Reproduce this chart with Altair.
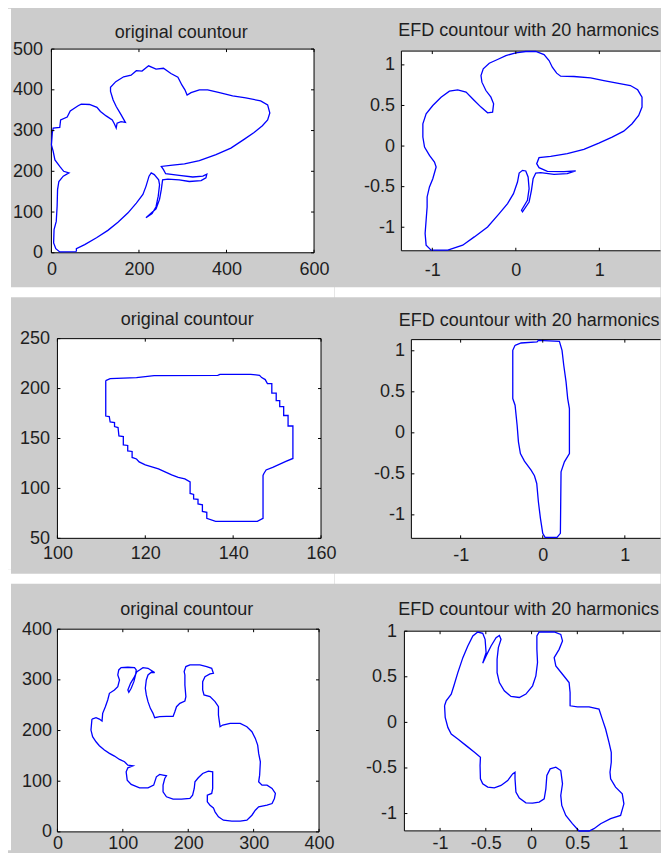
import altair as alt
import pandas as pd

# ---------- data: original butterfly contour ----------
bfly_x = [57, 19, 10, 5, 6, 11, 13, 14, 17, 27,
          40, 28, 19, 8, 4, 0, 2, 4, 19, 21,
          36, 43, 61, 68, 87, 104, 112, 125, 139, 144,
          148, 150, 159, 169, 159, 148, 141, 135, 135, 147,
          165, 182, 194, 207, 222, 239, 256, 273, 289, 298,
          305, 310, 319, 338, 357, 384, 414, 444, 478, 494,
          499, 494, 482, 463, 441, 410, 376, 338, 304, 277,
          251, 256, 261, 292, 323, 346, 355, 353, 342, 315,
          292, 266, 254, 251, 247, 239, 216, 230, 239, 244,
          247, 245, 235, 228, 223, 216, 209, 194, 175, 152,
          129, 103, 76, 57]
bfly_y = [3, 2, 10, 24, 57, 77, 114, 155, 175, 188,
          196, 200, 212, 228, 249, 265, 294, 306, 308, 326,
          333, 348, 361, 365, 364, 357, 347, 336, 326, 316,
          306, 318, 322, 320, 339, 359, 375, 396, 406, 420,
          432, 436, 447, 446, 459, 451, 453, 440, 431, 412,
          400, 387, 393, 400, 400, 393, 385, 380, 373, 363,
          343, 326, 312, 295, 279, 257, 241, 226, 218, 215,
          212, 204, 194, 190, 186, 188, 193, 184, 177, 175,
          179, 181, 179, 155, 131, 108, 86, 96, 113, 139,
          167, 179, 192, 196, 188, 163, 143, 122, 98, 75,
          55, 37, 20, 10]

# ---------- data: EFD butterfly ----------
efd1_x = [-0.815, -1.014, -1.074, -1.086, -1.074, -1.062, -1.062, -1.034, -0.994, -0.954,
          -0.974, -1.034, -1.093, -1.113, -1.113, -1.074, -0.994, -0.895, -0.795, -0.696,
          -0.596, -0.497, -0.417, -0.338, -0.278, -0.266, -0.298, -0.358, -0.406, -0.417,
          -0.390, -0.318, -0.219, -0.119, 0.000, 0.119, 0.239, 0.338, 0.398, 0.437,
          0.489, 0.537, 0.696, 0.895, 1.054, 1.213, 1.372, 1.459, 1.511, 1.511,
          1.471, 1.392, 1.292, 1.153, 0.994, 0.815, 0.616, 0.417, 0.278, 0.250,
          0.278, 0.378, 0.577, 0.716, 0.616, 0.457, 0.298, 0.239, 0.207, 0.187,
          0.159, 0.080, 0.068, 0.139, 0.159, 0.147, 0.119, 0.080, 0.040, 0.020,
          -0.028, -0.099, -0.199, -0.338, -0.497, -0.636]
efd1_y = [-1.283, -1.283, -1.221, -1.078, -0.914, -0.750, -0.627, -0.504, -0.402, -0.258,
          -0.197, -0.115, -0.012, 0.111, 0.275, 0.398, 0.500, 0.602, 0.676, 0.693,
          0.664, 0.561, 0.480, 0.410, 0.418, 0.520, 0.602, 0.684, 0.787, 0.869,
          0.951, 1.020, 1.066, 1.115, 1.148, 1.165, 1.165, 1.127, 1.053, 0.971,
          0.898, 0.861, 0.857, 0.840, 0.807, 0.775, 0.746, 0.693, 0.602, 0.480,
          0.377, 0.275, 0.184, 0.111, 0.037, -0.041, -0.094, -0.127, -0.143, -0.217,
          -0.266, -0.311, -0.316, -0.307, -0.340, -0.348, -0.328, -0.332, -0.402, -0.545,
          -0.689, -0.811, -0.791, -0.668, -0.525, -0.381, -0.307, -0.299, -0.332, -0.443,
          -0.586, -0.709, -0.832, -0.996, -1.119, -1.221]

# ---------- data: original bottle contour (pixel steps) ----------
pix_x = [111, 112, 118, 122, 136.5, 137, 144, 146, 146.5, 147.3,
         147.8, 148.8, 148.8, 149.8, 149.8, 150.6, 150.6, 151.5, 151.5, 152.5,
         152.5, 153.6, 153.6, 152, 150.5, 149, 147.5, 147, 146.8, 146.8,
         145.5, 136, 134, 134, 133, 133, 132, 132, 131, 131,
         130.2, 130.2, 129, 127.5, 126, 124.5, 123, 121.5, 120, 118.6,
         118, 117, 117, 116, 116, 115, 115, 114, 113.8, 113,
         113, 112, 111.8, 111]
pix_y = [208, 210, 211, 213, 213.3, 214.3, 214.3, 213.3, 211, 209,
         205, 205, 195.5, 195.5, 188, 188, 182, 182, 173, 173,
         162.5, 162.5, 130, 127, 124, 121, 118.5, 115, 113, 70,
         67, 67, 70, 76, 77, 83.5, 84.5, 89, 89.5, 94,
         95, 106.5, 109.5, 111, 113.5, 116.5, 119.5, 121.5, 123.5, 126.5,
         129.5, 131, 137, 137.5, 143, 143.5, 152, 152.5, 161, 162,
         166, 166.5, 172, 172.5]

# ---------- data: EFD bottle ----------
efd2_x = [-0.337, -0.365, -0.365, -0.337, -0.312, -0.296, -0.272, -0.223, -0.142, -0.101,
          -0.073, -0.053, -0.028, 0.000, 0.028, 0.174, 0.215, 0.223, 0.264, 0.325,
          0.325, 0.304, 0.284, 0.256, 0.235, 0.203, -0.053, -0.069, -0.264]
efd2_y = [1.067, 1.006, 0.418, 0.337, 0.093, -0.110, -0.252, -0.345, -0.454, -0.523,
          -0.617, -0.840, -1.043, -1.225, -1.274, -1.274, -1.225, -0.475, -0.353, -0.252,
          0.296, 0.418, 0.621, 0.824, 1.006, 1.116, 1.128, 1.108, 1.095]

# ---------- data: original camel contour ----------
camel_x = [52.8, 59.0, 64.1, 68.2, 69.2, 73.3, 76.9, 79.5, 87.2, 92.3,
           94.9, 92.3, 93.8, 97.4, 107.7, 117.9, 120.5, 119.5, 116.9, 112.8,
           109.2, 107.7, 111.8, 117.9, 121.5, 125.6, 130.8, 138.5, 148.7, 143.6,
           138.5, 135.9, 134.4, 135.9, 138.5, 142.1, 146.2, 148.7, 156.4, 166.7,
           176.9, 179.5, 182.1, 187.2, 194.9, 196.4, 194.9, 194.9, 193.8, 196.4,
           202.6, 217.9, 228.2, 235.9, 238.5, 233.3, 225.6, 222.1, 222.1, 224.1,
           233.3, 241.0, 246.2, 246.2, 248.7, 252.8, 264.1, 279.5, 289.7, 297.4,
           302.6, 306.2, 307.7, 310.3, 309.2, 307.7, 312.8, 320.5, 328.2, 333.3,
           331.8, 328.2, 320.5, 307.7, 302.6, 297.4, 289.7, 279.5, 266.7, 253.8,
           246.2, 241.0, 238.5, 233.3, 229.2, 229.2, 235.9, 237.4, 237.4, 230.8,
           222.1, 215.4, 210.3, 209.2, 206.7, 202.6, 189.7, 176.9, 166.7, 161.5,
           161.5, 164.1, 166.7, 161.5, 156.4, 151.3, 147.2, 138.5, 125.6, 112.8,
           106.7, 105.1, 107.7, 115.4, 107.7, 102.6, 94.9, 87.2, 79.5, 71.8,
           64.1, 59.0, 53.8, 51.3]
camel_y = [222.7, 225.4, 222.7, 218.8, 233.9, 247.1, 260.3, 273.5, 280.1, 286.7,
           299.8, 309.7, 319.6, 324.2, 324.9, 324.2, 319.6, 309.7, 296.5, 283.4,
           275.5, 280.1, 293.2, 306.4, 316.3, 319.6, 324.2, 322.9, 314.3, 315.0,
           309.7, 299.8, 283.4, 270.2, 257.0, 243.8, 233.9, 225.4, 227.3, 228.0,
           228.0, 237.2, 247.1, 253.7, 258.3, 266.9, 289.9, 309.7, 316.3, 326.2,
           329.5, 329.5, 326.2, 322.9, 313.0, 311.7, 306.4, 296.5, 280.1, 270.2,
           266.9, 257.0, 247.1, 230.6, 207.6, 210.9, 214.2, 214.2, 207.6, 197.7,
           184.5, 171.3, 154.9, 138.4, 112.0, 98.8, 92.3, 92.3, 85.7, 75.8,
           65.9, 56.0, 52.7, 49.4, 42.8, 32.9, 23.1, 21.1, 21.1, 23.1,
           29.7, 39.5, 47.4, 52.7, 59.3, 72.5, 75.8, 85.7, 118.6, 119.9,
           115.3, 106.8, 98.8, 85.7, 72.5, 65.9, 64.6, 64.6, 69.2, 79.1,
           92.3, 105.4, 110.7, 112.0, 113.3, 108.7, 92.3, 87.0, 87.0, 93.6,
           102.1, 118.6, 126.5, 130.5, 131.8, 138.4, 143.0, 149.6, 154.9, 161.4,
           170.0, 177.9, 187.8, 201.0]

# ---------- data: EFD camel ----------
efd3_x = [-0.951, -0.933, -0.878, -0.849, -0.806, -0.751, -0.697, -0.642, -0.588, -0.534,
          -0.508, -0.497, -0.515, -0.534, -0.497, -0.443, -0.388, -0.352, -0.334, -0.363,
          -0.377, -0.377, -0.352, -0.298, -0.225, -0.134, -0.062, 0.011, 0.047, 0.065,
          0.058, 0.058, 0.083, 0.247, 0.319, 0.338, 0.301, 0.247, 0.265, 0.338,
          0.410, 0.421, 0.421, 0.501, 0.628, 0.737, 0.773, 0.809, 0.846, 0.871,
          0.871, 0.857, 0.864, 0.918, 0.991, 1.009, 0.973, 0.864, 0.755, 0.682,
          0.628, 0.519, 0.446, 0.374, 0.330, 0.319, 0.338, 0.319, 0.265, 0.203,
          0.167, 0.156, 0.138, 0.083, 0.011, -0.062, -0.134, -0.171, -0.181, -0.181,
          -0.207, -0.261, -0.334, -0.407, -0.479, -0.534, -0.559, -0.563, -0.559, -0.624,
          -0.715, -0.806, -0.878, -0.915, -0.944]
efd3_y = [0.182, 0.237, 0.310, 0.401, 0.546, 0.710, 0.838, 0.947, 0.991, 0.976,
          0.911, 0.765, 0.710, 0.648, 0.729, 0.838, 0.929, 0.954, 0.911, 0.820,
          0.692, 0.546, 0.437, 0.346, 0.284, 0.273, 0.310, 0.401, 0.510, 0.656,
          0.801, 0.947, 0.991, 0.991, 0.965, 0.893, 0.801, 0.710, 0.619, 0.528,
          0.437, 0.328, 0.182, 0.171, 0.171, 0.146, 0.036, -0.073, -0.219, -0.328,
          -0.437, -0.546, -0.619, -0.710, -0.783, -0.893, -1.020, -1.056, -1.111, -1.166,
          -1.191, -1.191, -1.111, -1.020, -0.911, -0.801, -0.674, -0.528, -0.492, -0.510,
          -0.583, -0.729, -0.838, -0.874, -0.885, -0.882, -0.831, -0.765, -0.619, -0.546,
          -0.565, -0.638, -0.692, -0.718, -0.710, -0.674, -0.619, -0.474, -0.383, -0.328,
          -0.255, -0.182, -0.128, -0.055, 0.055]

# ---------- axes ticks / titles ----------
TITLE_ORIG = "original countour"
TITLE_EFD = "EFD countour with 20 harmonics"
efd_ticks = [-1, -0.5, 0, 0.5, 1]

GRAY = "#cccccc"
FONT = "Liberation Sans"
TXT = "#1e1e1e"
CW, CH = 326.5, 281  # every panel is one equal grid cell


def panel(xs, ys, xdom, ydom, xticks, yticks, box, title, tpos,
          xpad, ypad, strip=False, band=None, open_right=False):
    bx, by, bw, bh = box
    xs = list(xs) + [xs[0]]
    ys = list(ys) + [ys[0]]
    df = pd.DataFrame({"x": xs, "y": ys, "i": list(range(len(xs)))})
    xsc = alt.Scale(domain=xdom, range=[bx, bx + bw], nice=False, zero=False)
    ysc = alt.Scale(domain=ydom, range=[by + bh, by], nice=False, zero=False)
    common = dict(grid=False, domain=False, ticks=False, tickSize=0,
                  labelFont=FONT, labelFontSize=18, labelColor=TXT,
                  labelFlush=False, labelOverlap=False,
                  labelExpr="'' + datum.value", title=None)
    xax = alt.Axis(values=xticks, labelPadding=xpad, offset=-(CH - by - bh), **common)
    yax = alt.Axis(values=yticks, labelPadding=ypad, offset=-bx, **common)
    one = pd.DataFrame({"k": [0]})
    layers = []
    if strip:
        layers.append(alt.Chart(one).mark_rect(color="white").encode(
            x=alt.value(0), x2=alt.value(3), y=alt.value(0), y2=alt.value(CH)))
    if band is not None:
        layers.append(alt.Chart(one).mark_rect(color="white").encode(
            x=alt.value(0), x2=alt.value(CW), y=alt.value(band[0]), y2=alt.value(band[1])))
    if open_right:
        layers.append(alt.Chart(one).mark_rect(color="white").encode(
            x=alt.value(bx), x2=alt.value(CW), y=alt.value(by), y2=alt.value(by + bh)))
        edge = alt.Chart(one).mark_rule(color="black", strokeWidth=1)
        layers.append(edge.encode(x=alt.value(bx), x2=alt.value(CW), y=alt.value(by)))
        layers.append(edge.encode(x=alt.value(bx), x2=alt.value(CW), y=alt.value(by + bh)))
        layers.append(edge.encode(x=alt.value(bx), y=alt.value(by), y2=alt.value(by + bh)))
    else:
        layers.append(alt.Chart(one).mark_rect(fill="white", stroke="black", strokeWidth=1).encode(
            x=alt.value(bx), x2=alt.value(bx + bw), y=alt.value(by), y2=alt.value(by + bh)))
    layers.append(alt.Chart(df).mark_line(color="#0000ff", strokeWidth=1.3, clip=False).encode(
        x=alt.X("x:Q", scale=xsc, axis=xax),
        y=alt.Y("y:Q", scale=ysc, axis=yax),
        order="i:Q"))
    xt = pd.DataFrame({"x": xticks})
    yt = pd.DataFrame({"y": yticks})
    L = 3
    rx = alt.Chart(xt).mark_rule(color="black", strokeWidth=1)
    ry = alt.Chart(yt).mark_rule(color="black", strokeWidth=1)
    layers.append(rx.encode(x=alt.X("x:Q", scale=xsc, axis=xax),
                            y=alt.value(by + bh), y2=alt.value(by + bh - L)))
    layers.append(rx.encode(x=alt.X("x:Q", scale=xsc, axis=xax),
                            y=alt.value(by), y2=alt.value(by + L)))
    layers.append(ry.encode(y=alt.Y("y:Q", scale=ysc, axis=yax),
                            x=alt.value(bx), x2=alt.value(bx + L)))
    if not open_right:
        layers.append(ry.encode(y=alt.Y("y:Q", scale=ysc, axis=yax),
                                x=alt.value(bx + bw), x2=alt.value(bx + bw - L)))
    layers.append(alt.Chart(one).mark_text(
        text=title, font=FONT, fontSize=18, color=TXT, align="center", baseline="alphabetic"
    ).encode(x=alt.value(tpos[0]), y=alt.value(tpos[1])))
    return alt.layer(*layers).properties(width=CW, height=CH)


p1 = panel(bfly_x, bfly_y, [0, 600], [0, 500], [0, 200, 400, 600],
           [0, 100, 200, 300, 400, 500], (43.5, 40.5, 263, 204), TITLE_ORIG,
           (173.5, 29), 8.2, 9, strip=True, band=(279, 289))
p2 = panel(efd1_x, efd1_y, [-1.37, 1.81], [-1.29, 1.17], [-1, 0, 1], efd_ticks,
           (67, 42.5, 266, 200), TITLE_EFD, (194.5, 27.6), 11.2, 7,
           band=(279, 289), open_right=True)
p3 = panel(pix_x, pix_y, [100, 160], [50, 250], [100, 120, 140, 160],
           [50, 100, 150, 200, 250], (49.5, 49.5, 264, 200), TITLE_ORIG,
           (179.5, 36), 6, 8, strip=True, band=(285, 295))
p4 = panel(efd2_x, efd2_y, [-1.6, 1.55], [-1.286, 1.136], [-1, 0, 1], efd_ticks,
           (77, 50.5, 259, 199), TITLE_EFD, (195, 36.5), 8.5, 7,
           band=(285, 295), open_right=True)
p5 = panel(camel_x, camel_y, [0, 400], [0, 400], [0, 100, 200, 300, 400],
           [0, 100, 200, 300, 400], (49.5, 59.5, 262, 203), TITLE_ORIG,
           (179, 45), 2.2, 6, strip=True)
p6 = panel(efd3_x, efd3_y, [-1.39, 1.48], [-1.19, 1.0], efd_ticks, efd_ticks,
           (70, 61.5, 263, 200), TITLE_EFD, (194.5, 45.5), 3.5, 8, open_right=True)

chart = alt.concat(p1, p2, p3, p4, p5, p6, columns=2, spacing=0,
                   bounds="flush").properties(
    padding=0,
    background=GRAY,
).configure_view(stroke=None)

chart.save("out.html", embed_options={"renderer": "svg", "actions": False})
